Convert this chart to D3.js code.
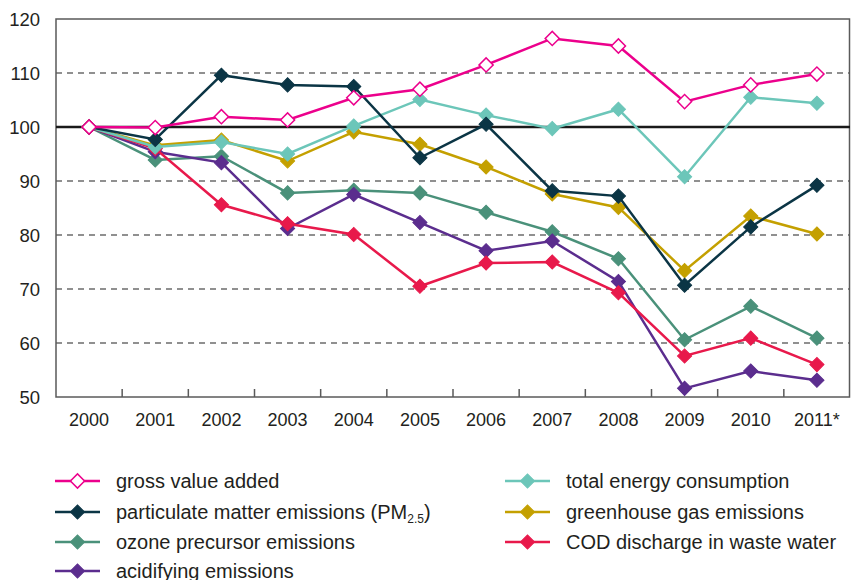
<!DOCTYPE html>
<html>
<head>
<meta charset="utf-8">
<script src="https://cdn.jsdelivr.net/npm/d3@7"></script>
<style>
  body { margin: 0; background: #fff; }
  svg text { font-family: "Liberation Sans", Arial, sans-serif; fill: #231f20; }
</style>
</head>
<body>
<div id="chart"></div>
<script>
// years along the x axis
var years = ["2000", "2001", "2002", "2003", "2004", "2005", "2006", "2007", "2008", "2009", "2010", "2011*"];
var yTicks = [50, 60, 70, 80, 90, 100, 110, 120];

// series, index 2000 = 100
var grossValue   = [100, 99.9, 101.9, 101.3, 105.4, 107.0, 111.5, 116.4, 115.0, 104.7, 107.8, 109.8];
var particulate  = [100, 97.7, 109.6, 107.8, 107.5, 94.3, 100.5, 88.2, 87.2, 70.7, 81.5, 89.2];
var ozone        = [100, 93.9, 94.6, 87.8, 88.3, 87.8, 84.2, 80.6, 75.6, 60.6, 66.8, 60.9];
var acidifying   = [100, 95.4, 93.4, 81.2, 87.5, 82.3, 77.1, 78.9, 71.4, 51.6, 54.8, 53.1];
var energy       = [100, 96.3, 97.2, 95.0, 100.2, 105.1, 102.2, 99.7, 103.3, 90.8, 105.5, 104.4];
var greenhouse   = [100, 96.6, 97.6, 93.7, 99.1, 96.8, 92.6, 87.6, 85.1, 73.4, 83.5, 80.2];
var cod          = [100, 96.0, 85.6, 82.1, 80.1, 70.5, 74.8, 75.0, 69.3, 57.6, 60.9, 56.0];

var seriesNames = ["gross value added", "particulate matter emissions (PM", "ozone precursor emissions",
                   "acidifying emissions", "total energy consumption", "greenhouse gas emissions",
                   "COD discharge in waste water"];
var seriesColors = ["#ec008c", "#0b3545", "#4a917a", "#5b2d8e", "#6cc6b9", "#c4a000", "#e8194b"];
var seriesValues = [grossValue, particulate, ozone, acidifying, energy, greenhouse, cod];

var width = 851, height = 580;
var margin = {left: 56, right: 1, top: 19, bottom: 183};

var svg = d3.select("#chart").append("svg")
  .attr("width", width)
  .attr("height", height);

var x = d3.scaleBand().domain(years).range([margin.left, width - margin.right]);
var y = d3.scaleLinear().domain([50, 120]).range([height - margin.bottom, margin.top]);

// dashed grid lines
svg.append("g").selectAll("line").data(yTicks.filter(function(d){ return d != 50 && d != 100 && d != 120; }))
  .enter().append("line")
  .attr("x1", margin.left).attr("x2", width - margin.right)
  .attr("y1", function(d){ return y(d); }).attr("y2", function(d){ return y(d); })
  .attr("stroke", "#222").attr("stroke-width", 1.2)
  .attr("stroke-dasharray", "6,5");

// frame
svg.append("rect")
  .attr("x", margin.left).attr("y", y(120))
  .attr("width", width - margin.right - margin.left - 0.5)
  .attr("height", y(50) - y(120))
  .attr("fill", "none").attr("stroke", "#5a5a5a").attr("stroke-width", 1.5);

// baseline at 100
svg.append("line")
  .attr("x1", margin.left).attr("x2", width - margin.right)
  .attr("y1", y(100)).attr("y2", y(100))
  .attr("stroke", "#1a1a1a").attr("stroke-width", 2.5);

// y axis labels
var yAxis = d3.axisLeft(y).tickValues(yTicks).tickSize(0).tickPadding(16);
var gy = svg.append("g").attr("transform", "translate(" + margin.left + ",0)").call(yAxis);
gy.select(".domain").remove();
gy.selectAll("text").style("font-size", "18.5px").attr("dy", "0.35em");

// x axis: ticks between the years, pointing up
var boundaries = years.slice(1).map(function(d){ return x(d); });
svg.append("g").selectAll("line").data(boundaries).enter().append("line")
  .attr("x1", function(d){ return d; }).attr("x2", function(d){ return d; })
  .attr("y1", y(50)).attr("y2", y(50) - 8)
  .attr("stroke", "#5a5a5a").attr("stroke-width", 1.5);

var xAxis = d3.axisBottom(x).tickSize(0).tickPadding(16);
var gx = svg.append("g").attr("transform", "translate(0," + y(50) + ")").call(xAxis);
gx.select(".domain").remove();
gx.selectAll("text").style("font-size", "18px");

// lines
var line = d3.line()
  .x(function(d, i){ return x(years[i]) + x.bandwidth() / 2; })
  .y(function(d){ return y(d); });

var diamond = d3.symbol().type(d3.symbolSquare).size(100);

var drawOrder = [2, 3, 6, 5, 4, 1, 0];
drawOrder.forEach(function(k){
  var g = svg.append("g");
  g.append("path").datum(seriesValues[k])
    .attr("d", line)
    .attr("fill", "none")
    .attr("stroke", seriesColors[k])
    .attr("stroke-width", 2.5);
  g.selectAll("path.mark").data(seriesValues[k]).enter().append("path")
    .attr("class", "mark")
    .attr("d", diamond)
    .attr("transform", function(d, i){
      return "translate(" + (x(years[i]) + x.bandwidth() / 2) + "," + y(d) + ") rotate(45)";
    })
    .attr("fill", k == 0 ? "#fff" : seriesColors[k])
    .attr("stroke", seriesColors[k])
    .attr("stroke-width", k == 0 ? 1.5 : 1);
});

// legend
var legendX = [55, 505];
var legendY = [481, 512, 542, 571];
var legendPos = [[0,0],[0,1],[0,2],[0,3],[1,0],[1,1],[1,2]];
seriesNames.forEach(function(name, k){
  var lx = legendX[legendPos[k][0]], ly = legendY[legendPos[k][1]];
  var g = svg.append("g").attr("transform", "translate(" + lx + "," + ly + ")");
  g.append("line").attr("x1", 0).attr("x2", 45).attr("y1", 0).attr("y2", 0)
    .attr("stroke", seriesColors[k]).attr("stroke-width", 2.5);
  g.append("path").attr("d", diamond)
    .attr("transform", "translate(22.5,0) rotate(45)")
    .attr("fill", k == 0 ? "#fff" : seriesColors[k])
    .attr("stroke", seriesColors[k])
    .attr("stroke-width", k == 0 ? 1.5 : 1);
  var t = g.append("text").attr("x", 61).attr("y", 0).attr("dy", "0.35em")
    .style("font-size", "20px").text(name);
  if (k == 1) {
    t.append("tspan").text("2.5").style("font-size", "12px").attr("dy", "4");
    t.append("tspan").text(")").attr("dy", "-4");
  }
});
</script>
</body>
</html>
